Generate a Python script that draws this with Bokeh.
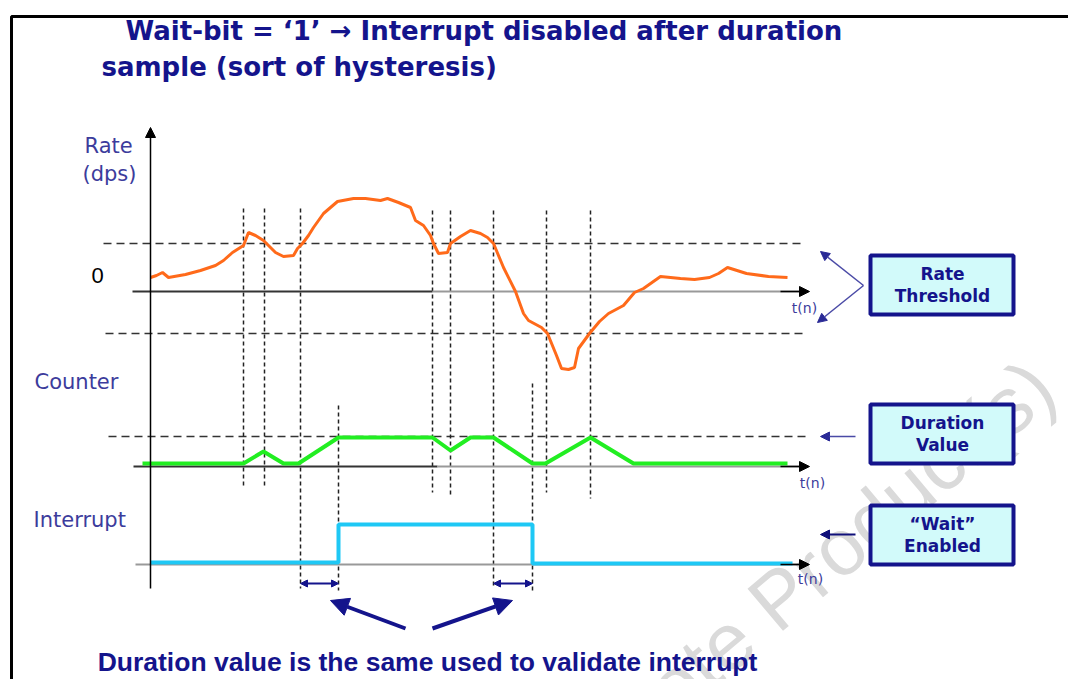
from bokeh.plotting import figure
from bokeh.models import Range1d, Arrow, NormalHead, ColumnDataSource
from bokeh.core.properties import value
from bokeh.embed import file_html
from bokeh.resources import INLINE

# ---------------- data (diagram units: x = time, y = level on page) -------------
title_lines = ["Wait-bit = \u20181\u2019 \u2192 Interrupt disabled after duration",
               "sample (sort of hysteresis)"]
bottom_note = "Duration value is the same used to validate interrupt"

rate_t = [150, 156, 162, 168, 185, 200, 215, 223, 232, 243, 248, 255, 263, 270, 275,
          283, 293, 297, 302, 308, 313, 323, 337, 353, 365, 380, 387, 398, 410, 415,
          423, 430, 433, 438, 447, 450, 460, 470, 480, 487, 493, 503, 515, 523, 528,
          541, 547, 556, 561, 568, 574, 578, 589, 599, 608, 623, 634, 643, 660, 680,
          694, 709, 718, 727, 746, 768, 787]
rate_v = [277, 275, 272, 277, 274, 270, 265, 260, 252, 245, 232, 235, 240, 247, 252,
          256, 255, 248, 243, 235, 227, 213, 201, 198, 198, 200, 198, 202, 207, 220,
          225, 235, 243, 253, 252, 243, 236, 230, 233, 237, 243, 267, 291, 313, 320,
          327, 333, 355, 368, 369, 367, 348, 333, 321, 313, 305, 292, 288, 276, 278,
          279, 277, 273, 267, 273, 276, 277]

counter_t = [142, 243, 263, 283, 298, 338, 432, 450, 470, 493, 532, 545, 590, 633, 787]
counter_v = [463, 463, 451, 463, 463, 437, 437, 450, 437, 437, 463, 463, 437, 463, 463]

interrupt_t = [150, 338, 338, 532, 532, 792]
interrupt_v = [562, 562, 524, 524, 563, 563]

# sample instants (dotted markers): x, top, bottom
mark_t = [243, 264, 300, 338, 432, 450, 493, 532, 546, 590]
mark_top = [208, 208, 208, 405, 210, 210, 210, 383, 210, 210]
mark_bot = [488, 488, 588, 590, 492, 497, 588, 590, 492, 498]

# levels
rate_zero = 291
rate_thr_hi = 243
rate_thr_lo = 333
duration_lvl = 436
counter_base = 466
interrupt_base = 564

boxes = ["Rate\nThreshold", "Duration\nValue", "\u201cWait\u201d\nEnabled"]
box_top = [255, 404, 505]
box_bot = [314, 463, 564]

NAVY = "#14148c"
SLATE = "#3c3c9c"

# ---------------- figure ----------------
p = figure(width=1068, height=679, x_range=Range1d(0, 1068), y_range=Range1d(679, 0),
           output_backend="svg", toolbar_location=None, min_border=0)
p.axis.visible = False
p.grid.visible = False
p.outline_line_color = None
p.background_fill_color = "white"

# watermark
p.text(x=[770], y=[605], text=["Obsolete Product(s)"], angle=0.70,
       text_font=value("Liberation Sans"), text_font_size="80px",
       text_color="#dadada", text_align="center", text_baseline="middle")

# outer frame
p.line(x=[11, 11, 1080], y=[700, 16, 16], line_color="black", line_width=3)

# title
p.text(x=[125, 101], y=[30, 66], text=title_lines, text_font=value("DejaVu Sans"),
       text_font_style="bold", text_font_size="26px", text_color=NAVY,
       text_align="left", text_baseline="middle")

# left labels
p.text(x=[84, 82, 34, 33], y=[145, 173, 381, 519], text=["Rate", "(dps)", "Counter", "Interrupt"],
       text_font=value("DejaVu Sans"), text_font_size="21px", text_color=SLATE,
       text_align="left", text_baseline="middle")
p.text(x=[97], y=[275], text=["0"], text_font=value("Liberation Sans"), text_font_size="22px",
       text_color="black", text_align="center", text_baseline="middle")

# dashed threshold / duration levels
for y0, xs, xe in [(rate_thr_hi, 103, 800), (rate_thr_lo, 105, 803), (duration_lvl, 108, 807)]:
    p.line(x=[xs, xe], y=[y0, y0], line_color="#333333", line_width=1.5, line_dash="8 5")

# dotted sample markers
p.segment(x0=mark_t, y0=mark_top, x1=mark_t, y1=mark_bot, line_color="#222222",
          line_width=1.5, line_dash="4 3")

# axes lines
p.line(x=[132, 432], y=[rate_zero, rate_zero], line_color="#333333", line_width=2)
p.line(x=[432, 800], y=[rate_zero, rate_zero], line_color="#999999", line_width=2)
p.line(x=[133, 437], y=[counter_base, counter_base], line_color="#333333", line_width=2)
p.line(x=[437, 800], y=[counter_base, counter_base], line_color="#999999", line_width=2)
p.line(x=[135, 800], y=[interrupt_base, interrupt_base], line_color="#999999", line_width=2)

axis_arrows = ColumnDataSource(dict(x0=[150, 780, 780, 780], y0=[588, rate_zero, counter_base, interrupt_base],
                                    x1=[150, 809, 809, 809], y1=[127, rate_zero, counter_base, interrupt_base]))
p.add_layout(Arrow(source=axis_arrows, x_start="x0", y_start="y0", x_end="x1", y_end="y1",
                   line_color="black", line_width=1.5,
                   end=NormalHead(size=10, fill_color="black", line_color="black")))

# signals
p.line(x=rate_t, y=rate_v, line_color="#ff6a1a", line_width=3)
p.line(x=counter_t, y=counter_v, line_color="#22ee22", line_width=4)
p.line(x=interrupt_t, y=interrupt_v, line_color="#1ec8f5", line_width=4)

# t(n) labels
p.text(x=[804, 812, 810], y=[307, 482, 578], text=["t(n)"] * 3, text_font=value("DejaVu Sans"),
       text_font_size="14px", text_color=SLATE, text_align="center", text_baseline="middle")

# boxes
p.quad(left=[870] * 3, right=[1013] * 3, top=box_top, bottom=box_bot,
       fill_color="#d2fafa", line_color=NAVY, line_width=4)
for lbl, t, b in zip(boxes, box_top, box_bot):
    l1, l2 = lbl.split("\n")
    mid = (t + b) / 2
    p.text(x=[942, 942], y=[mid - 11, mid + 11], text=[l1, l2], text_font=value("DejaVu Sans"),
           text_font_style="bold", text_font_size="17px", text_color=NAVY,
           text_align="center", text_baseline="middle")

# pointer arrows to the boxes
thin = ColumnDataSource(dict(x0=[863, 863, 855], y0=[285, 285, duration_lvl],
                             x1=[820, 817, 820], y1=[251, 322, duration_lvl]))
p.add_layout(Arrow(source=thin, x_start="x0", y_start="y0", x_end="x1", y_end="y1",
                   line_color="#4a4aa6", line_width=1.5,
                   end=NormalHead(size=9, fill_color="#2a2a96", line_color="#2a2a96")))
p.add_layout(Arrow(x_start=855, y_start=534, x_end=820, y_end=534, line_color="#10107a",
                   line_width=2, end=NormalHead(size=9, fill_color="#10107a", line_color="#10107a")))

# duration double arrows
dbl = ColumnDataSource(dict(x0=[300, 493], y0=[583, 583], x1=[338, 532], y1=[583, 583]))
p.add_layout(Arrow(source=dbl, x_start="x0", y_start="y0", x_end="x1", y_end="y1",
                   line_color=NAVY, line_width=2,
                   start=NormalHead(size=7, fill_color=NAVY, line_color=NAVY),
                   end=NormalHead(size=7, fill_color=NAVY, line_color=NAVY)))

# big arrows to the note
big = ColumnDataSource(dict(x0=[405, 432], y0=[628, 628], x1=[330, 512], y1=[600, 600]))
p.add_layout(Arrow(source=big, x_start="x0", y_start="y0", x_end="x1", y_end="y1",
                   line_color=NAVY, line_width=4,
                   end=NormalHead(size=18, fill_color=NAVY, line_color=NAVY)))

p.text(x=[427], y=[661], text=[bottom_note], text_font=value("Liberation Sans"),
       text_font_style="bold", text_font_size="26.5px", text_color=NAVY,
       text_align="center", text_baseline="middle")

open("out.html", "w").write(file_html(p, INLINE))
